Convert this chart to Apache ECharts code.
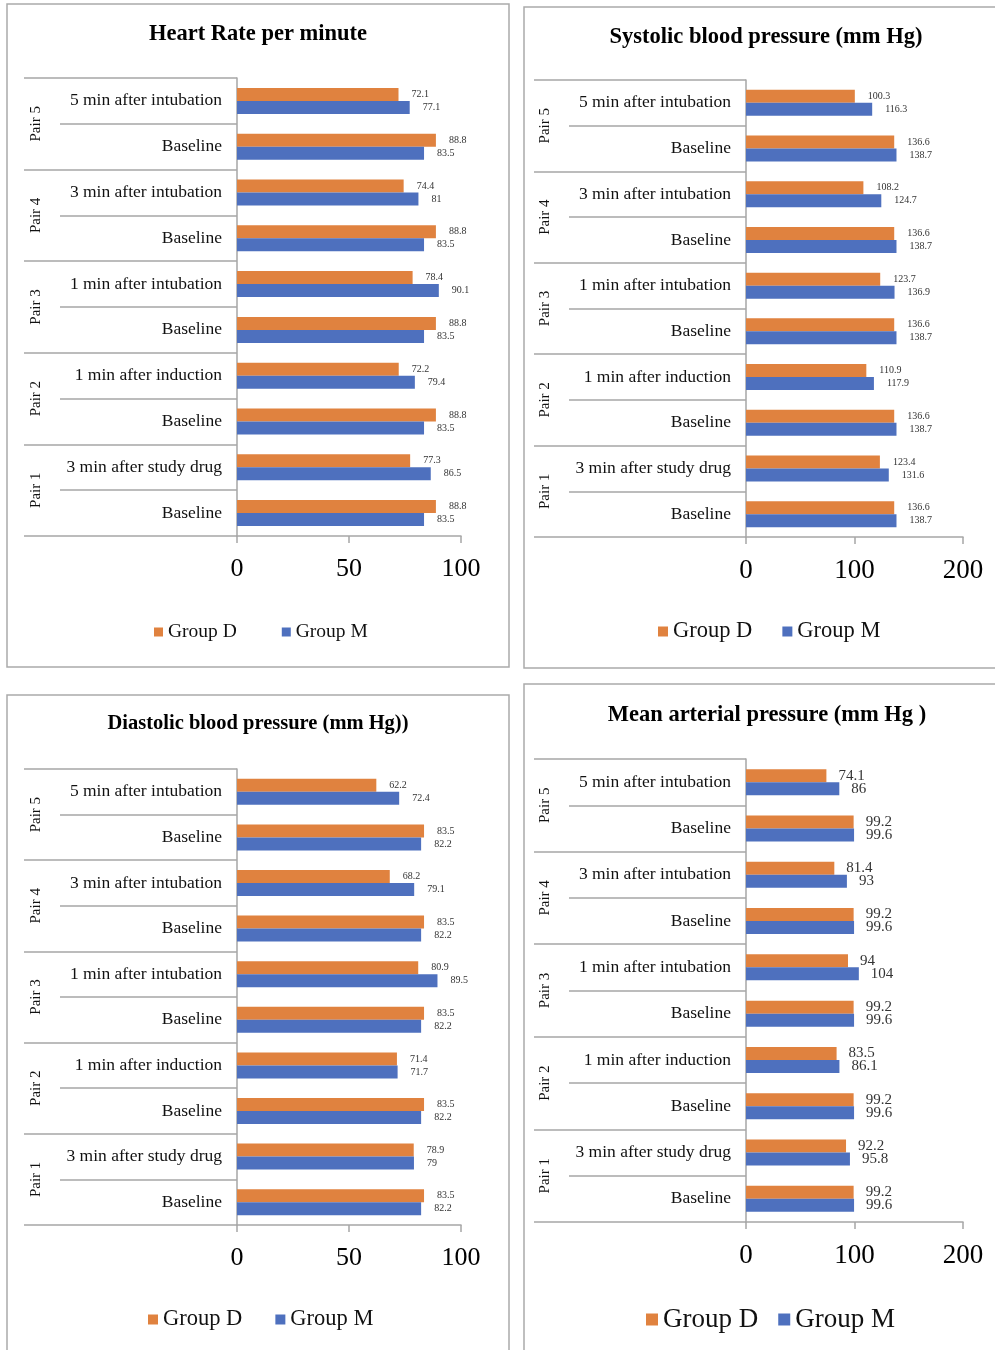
<!DOCTYPE html>
<html>
<head>
<meta charset="utf-8">
<script src="https://cdn.jsdelivr.net/npm/echarts@6/dist/echarts.min.js"></script>
<style>
  html, body { margin: 0; padding: 0; background: #fff; }
  #chart { width: 995px; height: 1350px; }
</style>
</head>
<body>
<div id="chart"></div>
<script>
// categories listed top to bottom (axis is inverted)
const categories = [
  '5 min after intubation', 'Baseline',
  '3 min after intubation', 'Baseline',
  '1 min after intubation', 'Baseline',
  '1 min after induction', 'Baseline',
  '3 min after study drug', 'Baseline'
];
const pairs = ['Pair 5', 'Pair 4', 'Pair 3', 'Pair 2', 'Pair 1'];
const seriesNames = ['Group D', 'Group M'];

const hrGroupD = [72.1, 88.8, 74.4, 88.8, 78.4, 88.8, 72.2, 88.8, 77.3, 88.8];
const hrGroupM = [77.1, 83.5, 81, 83.5, 90.1, 83.5, 79.4, 83.5, 86.5, 83.5];
const sbpGroupD = [100.3, 136.6, 108.2, 136.6, 123.7, 136.6, 110.9, 136.6, 123.4, 136.6];
const sbpGroupM = [116.3, 138.7, 124.7, 138.7, 136.9, 138.7, 117.9, 138.7, 131.6, 138.7];
const dbpGroupD = [62.2, 83.5, 68.2, 83.5, 80.9, 83.5, 71.4, 83.5, 78.9, 83.5];
const dbpGroupM = [72.4, 82.2, 79.1, 82.2, 89.5, 82.2, 71.7, 82.2, 79, 82.2];
const mapGroupD = [74.1, 99.2, 81.4, 99.2, 94, 99.2, 83.5, 99.2, 92.2, 99.2];
const mapGroupM = [86, 99.6, 93, 99.6, 104, 99.6, 86.1, 99.6, 95.8, 99.6];

const COLORS = ['#E0823F', '#4E70BE'];
const SERIF = 'Liberation Serif';
const LINE = '#a6a6a6';

const panels = [
  {
    title: 'Heart Rate per minute', titleX: 253, titleY: 18, titleFont: 22.5,
    d: hrGroupD, m: hrGroupM, max: 100, interval: 50,
    grid: { left: 237, top: 78, width: 224, height: 458 },
    subLen: 177, pairLen: 213, tickFont: 26, valFont: 10, valDist: 13,
    legendX: 149, legendY: 617, legendFont: 19.5, legendGap: 45, legendIcon: 9,
    box: [7, 4, 502, 663]
  },
  {
    title: 'Systolic blood pressure (mm Hg)', titleX: 761, titleY: 21, titleFont: 22.5,
    d: sbpGroupD, m: sbpGroupM, max: 200, interval: 100,
    grid: { left: 746, top: 80, width: 217, height: 457 },
    subLen: 177, pairLen: 212, tickFont: 27, valFont: 10, valDist: 13,
    legendX: 653, legendY: 615, legendFont: 22.5, legendGap: 30, legendIcon: 10,
    box: [524, 7, 480, 661]
  },
  {
    title: 'Diastolic blood pressure (mm Hg))', titleX: 253, titleY: 708, titleFont: 20.5,
    d: dbpGroupD, m: dbpGroupM, max: 100, interval: 50,
    grid: { left: 237, top: 769, width: 224, height: 456 },
    subLen: 177, pairLen: 213, tickFont: 26, valFont: 10, valDist: 13,
    legendX: 143, legendY: 1303, legendFont: 22.5, legendGap: 33, legendIcon: 10,
    box: [7, 695, 502, 700]
  },
  {
    title: 'Mean arterial pressure (mm Hg )', titleX: 762, titleY: 699, titleFont: 22.5,
    d: mapGroupD, m: mapGroupM, max: 200, interval: 100,
    grid: { left: 746, top: 759, width: 217, height: 463 },
    subLen: 177, pairLen: 212, tickFont: 27, valFont: 15, valDist: 12,
    legendX: 641, legendY: 1301, legendFont: 27, legendGap: 20, legendIcon: 12,
    box: [524, 684, 480, 700]
  }
];

const option = {
  backgroundColor: '#fff',
  animation: false,
  title: [], grid: [], xAxis: [], yAxis: [], series: [], legend: [], graphic: []
};

panels.forEach((p, i) => {
  option.graphic.push({
    type: 'rect', silent: true, z: -1,
    shape: { x: p.box[0], y: p.box[1], width: p.box[2], height: p.box[3] },
    style: { fill: 'none', stroke: '#aaa', lineWidth: 1.5 }
  });

  option.title.push({
    text: p.title, left: p.titleX, top: p.titleY, textAlign: 'center',
    textStyle: { fontFamily: SERIF, fontWeight: 'bold', fontSize: p.titleFont, color: '#000' }
  });

  option.grid.push(Object.assign({ containLabel: false, outerBoundsMode: 'none' }, p.grid));

  option.xAxis.push({
    type: 'value', gridIndex: i, min: 0, max: p.max, interval: p.interval,
    splitLine: { show: false },
    axisLine: { show: true, lineStyle: { color: LINE, width: 1.5 } },
    axisTick: { show: true, length: 7, lineStyle: { color: LINE, width: 1.5 } },
    axisLabel: { fontFamily: SERIF, fontSize: p.tickFont, color: '#000', margin: 20 }
  });

  // sub-category labels with short separator lines
  option.yAxis.push({
    type: 'category', gridIndex: i, position: 'left', inverse: true, data: categories,
    axisLine: { show: true, lineStyle: { color: LINE, width: 1.5 } },
    axisTick: { show: true, interval: 0, length: p.subLen, lineStyle: { color: LINE, width: 1.5 } },
    axisLabel: { interval: 0, fontFamily: SERIF, fontSize: 17.5, color: '#111', margin: 15 }
  });
  // pair labels with full-width separator lines
  option.yAxis.push({
    type: 'category', gridIndex: i, position: 'left', offset: 0, inverse: true, data: pairs,
    axisLine: { show: false },
    axisTick: { show: true, interval: 0, length: p.pairLen, lineStyle: { color: LINE, width: 1.5 } },
    axisLabel: { interval: 0, rotate: 90, fontFamily: SERIF, fontSize: 15, color: '#111', margin: 193 }
  });

  [p.d, p.m].forEach((vals, k) => {
    option.series.push({
      type: 'bar', name: seriesNames[k], xAxisIndex: i, yAxisIndex: 2 * i,
      data: vals, barWidth: 13, barGap: '0%',
      itemStyle: { color: COLORS[k] },
      label: {
        show: true, position: 'right', distance: p.valDist,
        fontFamily: SERIF, fontSize: p.valFont, color: '#333'
      }
    });
  });

  option.legend.push({
    data: seriesNames, left: p.legendX, top: p.legendY, orient: 'horizontal',
    icon: 'rect', itemWidth: p.legendIcon, itemHeight: p.legendIcon,
    itemGap: p.legendGap, selectedMode: false,
    textStyle: { fontFamily: SERIF, fontSize: p.legendFont, color: '#111' }
  });
});

const chart = echarts.init(document.getElementById('chart'));
chart.setOption(option);
</script>
</body>
</html>
